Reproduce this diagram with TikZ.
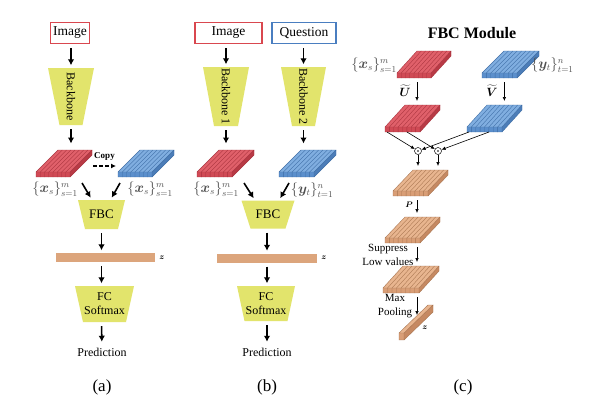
\documentclass[tikz,border=0pt]{standalone}
\usepackage{fontspec}
\setmainfont{Liberation Serif}
\usepackage{bm}
\usetikzlibrary{arrows.meta,positioning}

\definecolor{yel}{HTML}{E2E46C}
\definecolor{boxred}{HTML}{D9474F}
\definecolor{boxblue}{HTML}{4A7EC0}
\definecolor{labgrey}{HTML}{505050}
\definecolor{barfill}{HTML}{DCA57C}
\definecolor{redT}{HTML}{E0606A}
\definecolor{redF}{HTML}{D04A55}
\definecolor{redS}{HTML}{B83A45}
\definecolor{redL}{HTML}{A8323D}
\definecolor{blueT}{HTML}{80AEE0}
\definecolor{blueF}{HTML}{5B8FCC}
\definecolor{blueS}{HTML}{4C7DB8}
\definecolor{blueL}{HTML}{3D6DA5}
\definecolor{orT}{HTML}{E8B58F}
\definecolor{orF}{HTML}{D99E76}
\definecolor{orS}{HTML}{C68962}
\definecolor{orL}{HTML}{A87550}

\begin{document}
\begin{tikzpicture}[
    x = 1pt, y = -1pt,
    every node/.style = {font = \fontsize{12}{14}\selectfont},
    inbox/.style = {draw = #1, line width = 1.4pt, minimum height = 21pt, inner sep = 0pt,
        font = \fontsize{13.5}{15}\selectfont},
    trap/.style n args = {3}{minimum width = #1, minimum height = #2, inner sep = 0pt,
        path picture = {\fill[yel] (path picture bounding box.north west)
            -- (path picture bounding box.north east)
            -- ([xshift = -#3]path picture bounding box.south east)
            -- ([xshift = #3]path picture bounding box.south west) -- cycle;}},
    vecbar/.style = {fill = barfill, minimum height = 9pt, inner sep = 0pt},
    setlab/.style = {text = labgrey, font = \fontsize{13.5}{15}\selectfont, inner sep = 0pt},
    zlab/.style = {font = \fontsize{8}{9}\selectfont, inner sep = 1pt},
    figlab/.style = {font = \fontsize{17}{19}\selectfont},
    arr/.style = {line width = 1.6pt, -{Latex[length=6pt,width=6.5pt]},
        shorten < = 4pt, shorten > = 2.5pt},
    smallarr/.style = {line width = 0.6pt, -{Latex[length=4pt,width=3.5pt]}},
    copyarr/.style = {line width = 1.5pt, dash pattern = on 4pt off 2pt,
        -{Latex[length=5pt,width=5pt]}},
    odot/.style = {circle, draw, line width = 0.5pt, minimum size = 7pt, inner sep = 0pt,
        path picture = {\fill (path picture bounding box.center) circle (0.8pt);}},
    pics/slab/.style n args = {4}{code = {
        \fill[#1F] (0,0) rectangle (#2,5);
        \fill[#1T] (0,0) -- (#3,-#4) -- (#2+#3,-#4) -- (#2,0) -- cycle;
        \fill[#1S] (#2,0) -- (#2+#3,-#4) -- (#2+#3,5-#4) -- (#2,5) -- cycle;
        \foreach \k in {1,...,7}
            \draw[#1L, line width = 0.35pt] (\k*#2/8,5) -- (\k*#2/8,0) -- ++(#3,-#4);
        \draw[#1L, line width = 0.4pt] (0,0) rectangle (#2,5)
            (0,0) -- (#3,-#4) -- (#2+#3,-#4) -- (#2,0)
            (#2+#3,-#4) -- (#2+#3,5-#4) -- (#2,5);
        \coordinate (-n) at (#3,-#4-4);
        \coordinate (-e) at (#2+#3+1,-6);
        \coordinate (-w) at (-2,-6);
        \coordinate (-se) at (#2+12,11);
        \coordinate (-sw) at (2,11);
        \coordinate (-s) at (0.64*#2,9);
        \coordinate (-b1) at (2,5);
        \coordinate (-b2) at (22,5);
    }},
    pics/zpole/.style = {code = {
        \fill[orF] (0,0) rectangle (5,7);
        \fill[orT] (0,0) -- (29,-28) -- (34,-28) -- (5,0) -- cycle;
        \fill[orS] (5,0) -- (34,-28) -- (34,-21) -- (5,7) -- cycle;
        \draw[orL, line width = 0.4pt] (0,0) rectangle (5,7)
            (0,0) -- (29,-28) -- (34,-28) -- (5,0) (34,-28) -- (34,-21) -- (5,7);
        \coordinate (-n) at (16,-18);
    }}]

\useasboundingbox[fill = white] (0,0) rectangle (612,408);

% (a)
\node[inbox = boxred, minimum width = 39pt] (imgA) at (70,33) {Image};
\node[trap = {46pt}{57pt}{11.5}] (bbA) at (71,96.5) {\rotatebox{-90}{Backbone}};
\pic (ra) at (36,172) {slab = {red}{34}{22}{22}};
\pic (ba) at (118,172) {slab = {blue}{34}{22}{22}};
\node[setlab] (xa1) at (55,189) {$\{\bm{x}_s\}_{s=1}^{m}$};
\node[setlab] (xa2) at (150,189) {$\{\bm{x}_s\}_{s=1}^{m}$};
\node[trap = {47pt}{29pt}{7}, font = \fontsize{13}{15}\selectfont] (fbcA) at (101.5,214.5) {FBC};
\node[vecbar, minimum width = 99pt] (zA) at (105.5,257.5) {};
\node[zlab, right = 3pt of zA] (zlA) {$\bm{z}$};
\node[trap = {59pt}{36pt}{8}, align = center] (fcA) at (104.5,304) {FC\\Softmax};
\node (predA) at (102,352) {Prediction};
\node[figlab] (capA) at (102,387) {(a)};

\draw[arr] (bbA.north |- imgA.south) -- (bbA.north);
\draw[arr] (bbA.south) -- (bbA.south |- ra-n);
\draw[copyarr] (ra-e) -- (ba-w)
    node[midway, above = 1pt, font = \fontsize{9}{10}\selectfont\bfseries] {Copy};
\draw[arr, shorten < = 0pt] (ra-se) -- ([xshift = -9.5]fbcA.north);
\draw[arr, shorten < = 0pt] (ba-sw) -- ([xshift = 9]fbcA.north);
\draw[arr] (fbcA.south) -- (fbcA.south |- zA.north);
\draw[arr] (fbcA.south |- zA.south) -- (fbcA.south |- fcA.north);
\draw[arr] (fbcA.south |- fcA.south) -- (predA);

% (b)
\node[inbox = boxred, minimum width = 67pt] (imgB) at (228.5,33) {Image};
\node[inbox = boxblue, minimum width = 64pt] (qB) at (304,33) {Question};
\node[trap = {46pt}{59pt}{11}] (bb1) at (226,96.5) {\rotatebox{-90}{Backbone 1}};
\node[trap = {45pt}{59pt}{11}] (bb2) at (303.5,96.5) {\rotatebox{-90}{Backbone 2}};
\pic (rb) at (197,172) {slab = {red}{35}{22}{22}};
\pic (bb) at (279,172) {slab = {blue}{35}{22}{22}};
\node[setlab] (xb) at (216,189) {$\{\bm{x}_s\}_{s=1}^{m}$};
\node[setlab] (yb) at (312,190) {$\{\bm{y}_t\}_{t=1}^{n}$};
\node[trap = {53pt}{28pt}{9}, font = \fontsize{13}{15}\selectfont] (fbcB) at (268,214.5) {FBC};
\node[vecbar, minimum width = 100pt] (zB) at (267,258) {};
\node[zlab, right = 3pt of zB] (zlB) {$\bm{z}$};
\node[trap = {58pt}{35pt}{7.5}, align = center] (fcB) at (266,303.5) {FC\\Softmax};
\node (predB) at (267,352) {Prediction};
\node[figlab] (capB) at (267,387) {(b)};

\draw[arr] (bb1.north |- imgB.south) -- (bb1.north);
\draw[arr] (bb2.north |- qB.south) -- (bb2.north);
\draw[arr] (bb1.south) -- (bb1.south |- rb-n);
\draw[arr] (bb2.south) -- (bb2.south |- bb-n);
\draw[arr, shorten < = 0pt] (rb-se) -- ([xshift = -13]fbcB.north);
\draw[arr, shorten < = 0pt] ([xshift = 8]bb-sw) -- ([xshift = 11]fbcB.north);
\draw[arr] (fbcB.south -| zB) -- (zB.north);
\draw[arr] (zB.south) -- (zB.south |- fcB.north);
\draw[arr] (zB.south |- fcB.south) -- (predB);

% (c)
\node[font = \fontsize{16}{18}\selectfont\bfseries] (title) at (472,33) {FBC Module};
\coordinate (axis) at (417,0);
\pic (rc1) at (397,73) {slab = {red}{34}{20}{22}};
\pic (bc1) at (482,73) {slab = {blue}{35}{22}{22}};
\node[setlab, anchor = east] (xc) at (397,65) {$\{\bm{x}_s\}_{s=1}^{m}$};
\node[setlab, anchor = west] (yc) at (531,65) {$\{\bm{y}_t\}_{t=1}^{n}$};
\pic (rc2) at (385,127) {slab = {red}{35}{20}{22}};
\pic (bc2) at (467,127) {slab = {blue}{35}{20}{22}};
\node[inner sep = 0pt, font = \fontsize{13}{15}\selectfont] (Ut) at (405,91) {$\widetilde{\bm{U}}$};
\node[inner sep = 0pt, font = \fontsize{13}{15}\selectfont] (Vt) at (492,91) {$\widetilde{\bm{V}}$};
\draw[smallarr] (axis |- rc1-s) -- (axis |- rc2-n);
\draw[smallarr] (bc1-s) -- (bc1-s |- bc2-n);
\node[odot] (o1) at (418,151) {};
\node[odot] (o2) at (438,151) {};
\draw[smallarr] (rc2-b1) -- (o1);
\draw[smallarr] (rc2-b2) -- (o2);
\draw[smallarr] (bc2-b1) -- (o1);
\draw[smallarr] (bc2-b2) -- (o2);
\pic (oc1) at (393,191) {slab = {or}{35}{20}{21}};
\pic (oc2) at (385,238) {slab = {or}{35}{20}{21}};
\pic (oc3) at (383,288) {slab = {or}{36}{20}{22}};
\pic (zc) at (399,333) {zpole};
\draw[smallarr] (o1) -- (o1 |- oc1-n);
\draw[smallarr] (o2) -- (o2 |- oc1-n);
\node[zlab] (P) at (409,205) {$\bm{P}$};
\draw[smallarr] (axis |- oc1-s) -- (axis |- oc2-n);
\node[align = center, font = \fontsize{11}{14}\selectfont] (supp) at (388,255) {Suppress\\Low values};
\draw[smallarr] (axis |- oc2-s) -- (axis |- oc3-n);
\node[align = center, font = \fontsize{11}{14}\selectfont] (mp) at (395,306) {Max\\Pooling};
\draw[smallarr] (axis |- oc3-s) -- (axis |- zc-n);
\node[zlab] (zlc) at (425,328) {$\bm{z}$};
\node[figlab] (capC) at (463,387) {(c)};
\end{tikzpicture}
\end{document}
